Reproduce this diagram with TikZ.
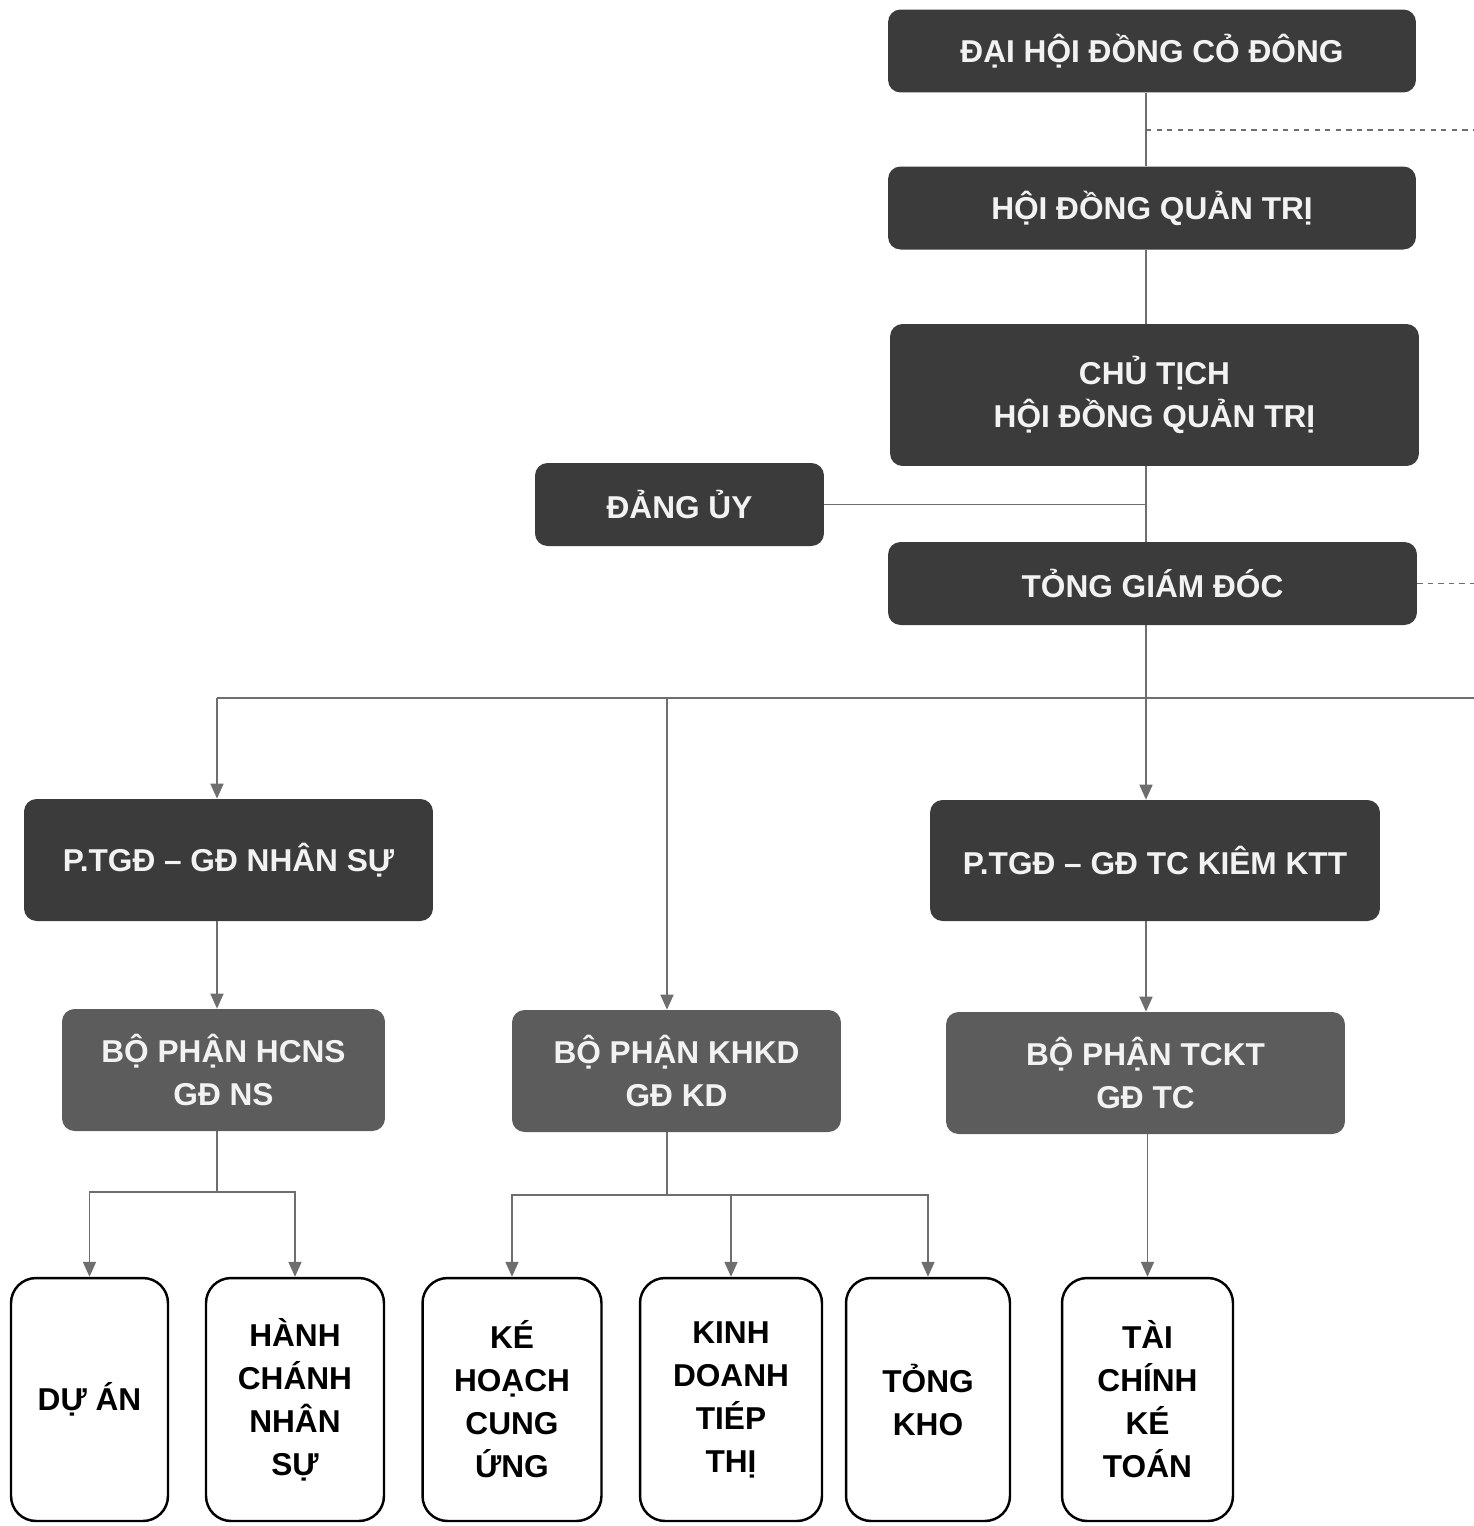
\documentclass[tikz,border=0pt]{standalone}
\usepackage{fontspec}
\setmainfont{Liberation Sans}
\usepackage{tikz}
\usetikzlibrary{arrows.meta, positioning}

\definecolor{boxdark}{HTML}{3B3B3B}
\definecolor{boxmid}{HTML}{5C5C5C}
\definecolor{linkgray}{HTML}{6E6E6E}
\definecolor{textlight}{HTML}{F2F2F2}

\begin{document}
\begin{tikzpicture}[x=0.02cm, y=-0.02cm,
    every node/.style={font=\fontsize{18}{24.5}\selectfont\bfseries, align=center, inner sep=0pt},
    darkbox/.style={fill=boxdark, text=textlight, rounded corners=0.25cm},
    midbox/.style={fill=boxmid, text=textlight, rounded corners=0.25cm},
    leafbox/.style={draw=black, line width=1.4pt, fill=white, text=black, rounded corners=0.5cm,
      minimum height=4.86cm},
    link/.style={draw=linkgray, line width=1pt},
    arrowlink/.style={link, -{Triangle[width=0.26cm, length=0.3cm]}},
    dotlink/.style={draw=linkgray, line width=0.8pt, dash pattern=on 3pt off 3pt}]
  \useasboundingbox (0,0) rectangle (1474,1526);

  % top of the chain
  \node[darkbox, minimum width=10.56cm, minimum height=1.66cm] (dhdcd) at (1152,51) {ĐẠI HỘI ĐỒNG CỎ ĐÔNG};
  \node[darkbox, minimum width=10.56cm, minimum height=1.66cm] (hdqt) at (1152,208) {HỘI ĐỒNG QUẢN TRỊ};
  \node[darkbox, minimum width=10.58cm, minimum height=2.84cm] (chutich) at (1154.5,395) {CHỦ TỊCH\\HỘI ĐỒNG QUẢN TRỊ};
  \node[darkbox, minimum width=5.78cm, minimum height=1.66cm] (dangUy) at (679.5,504.5) {ĐẢNG ỦY};
  \node[darkbox, minimum width=10.58cm, minimum height=1.66cm] (tgd) at (1152.5,583.5) {TỎNG GIÁM ĐÓC};

  % deputies
  \node[darkbox, minimum width=8.18cm, minimum height=2.44cm] (ptgdNS) at (228.5,860) {P.TGĐ – GĐ NHÂN SỰ};
  \node[darkbox, minimum width=9cm, minimum height=2.42cm] (ptgdTC) at (1155,860.5) {P.TGĐ – GĐ TC KIÊM KTT};

  % departments
  \node[midbox, minimum width=6.46cm, minimum height=2.44cm] (bpHCNS) at (223.5,1070) {BỘ PHẬN HCNS\\GĐ NS};
  \node[midbox, minimum width=6.58cm, minimum height=2.44cm] (bpKHKD) at (676.5,1071) {BỘ PHẬN KHKD\\GĐ KD};
  \node[midbox, minimum width=7.98cm, minimum height=2.44cm] (bpTCKT) at (1145.5,1073) {BỘ PHẬN TCKT\\GĐ TC};

  % units
  \node[leafbox, minimum width=3.14cm] (duAn) at (89.5,1399.5) {DỰ ÁN};
  \node[leafbox, minimum width=3.56cm] (hcns) at (295,1399.5) {HÀNH\\CHÁNH\\NHÂN\\SỰ};
  \node[leafbox, minimum width=3.58cm] (khcu) at (512,1399.5) {KÉ\\HOẠCH\\CUNG\\ỨNG};
  \node[leafbox, minimum width=3.64cm] (kdtt) at (731,1399.5) {KINH\\DOANH\\TIÉP\\THỊ};
  \node[leafbox, minimum width=3.28cm] (tongKho) at (928,1399.5) {TỎNG\\KHO};
  \node[leafbox, minimum width=3.42cm] (tcKT) at (1147.5,1399.5) {TÀI\\CHÍNH\\KÉ\\TOÁN};

  \coordinate (spine) at (1146,0);
  \coordinate (colNS) at (217,0);
  \coordinate (colKD) at (667,0);
  \coordinate (edgeA) at (1474,130);
  \coordinate (edgeB) at (1474,578);
  \coordinate (edgeC) at (1474,698);

  % main spine
  \draw[link] (dhdcd.south -| spine) -- (hdqt.north -| spine);
  \draw[link] (hdqt.south -| spine) -- (chutich.north -| spine);
  \draw[link] (chutich.south -| spine) -- (tgd.north -| spine);
  \draw[dotlink] (edgeA -| spine) -- (edgeA);
  \draw[link] (dangUy.east) -- (dangUy.east -| spine);
  \draw[dotlink] (tgd.east) -- (tgd.east -| edgeB);

  % bus under TGD
  \draw[arrowlink] (tgd.south -| spine) -- (ptgdTC.north -| spine);
  \draw[link] (colNS |- edgeC) -- (edgeC);
  \draw[arrowlink] (colNS |- edgeC) -- (ptgdNS.north -| colNS);
  \draw[arrowlink] (colKD |- edgeC) -- (bpKHKD.north -| colKD);

  \draw[arrowlink] (ptgdNS.south -| colNS) -- (bpHCNS.north -| colNS);
  \draw[arrowlink] (ptgdTC.south -| spine) -- (bpTCKT.north -| spine);

  % units
  \draw[link] (bpHCNS.south -| colNS) -- ++(0,61) coordinate (forkHC);
  \draw[arrowlink] (forkHC) -| (duAn.north);
  \draw[arrowlink] (forkHC) -| (hcns.north);
  \draw[link] (bpKHKD.south -| colKD) -- ++(0,63) coordinate (forkKD);
  \draw[arrowlink] (forkKD) -| (khcu.north);
  \draw[arrowlink] (forkKD) -| (kdtt.north);
  \draw[arrowlink] (forkKD) -| (tongKho.north);
  \draw[arrowlink] (bpTCKT.south -| tcKT.north) -- (tcKT.north);
\end{tikzpicture}
\end{document}
